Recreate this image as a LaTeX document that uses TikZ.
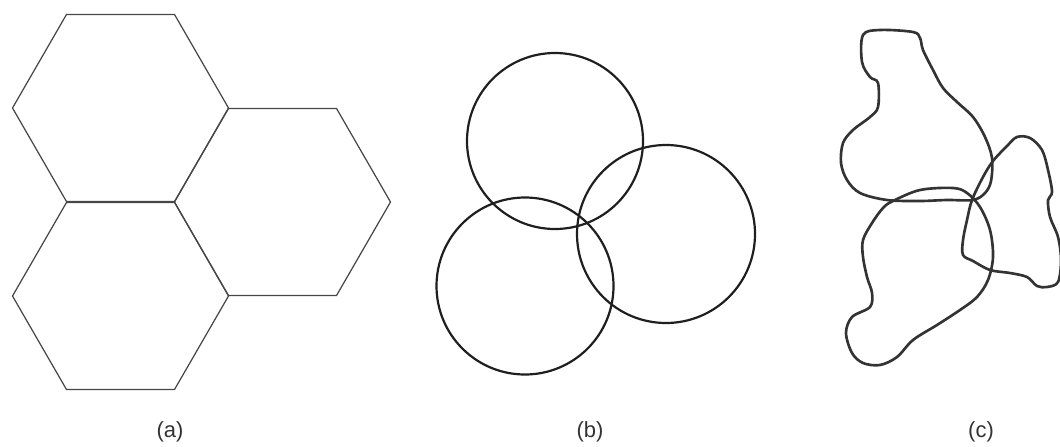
\documentclass[tikz,border=0pt]{standalone}
\usepackage{fontspec}
\setmainfont{Liberation Sans}
\usetikzlibrary{positioning}

\begin{document}
\begin{tikzpicture}[
    x=0.02cm, y=-0.02cm,
    cell/.style={draw=black!72, line width=0.7pt, line join=round},
    ring/.style={draw=black!88, line width=1.25pt},
    blob/.style={draw=black!80, line width=1.5pt, line join=round},
    caption/.style={font=\fontsize{12.5}{15}\selectfont, text=black!80}
]
    \useasboundingbox (0,0) rectangle (1060,446);

    % (a) hexagonal cells
    \foreach \cx/\cy in {120.5/108, 120.5/296, 282.5/202}
        \draw[cell] (\cx,\cy) +(0:108) -- +(60:108) -- +(120:108)
            -- +(180:108) -- +(240:108) -- +(300:108) -- cycle;

    % (b) circular cells
    \draw[ring] (555,141) circle[radius=88];
    \draw[ring] (525,286) circle[radius=88.5];
    \draw[ring] (666,234) circle[radius=89];

    % (c) real coverage
    \draw[blob] plot[smooth cycle, tension=0.55] coordinates {
        (863,35) (880,30) (913,32) (920,38) (923,50) (933,70) (943,88)
        (957,102) (973,117) (985,137) (992,158) (991,181) (985,193)
        (973,200) (947,200) (920,201) (887,200) (860,193) (847,180)
        (841,163) (843,143) (853,130) (870,117) (878,107) (878,83)
        (870,77) (862,62)};
    \draw[blob] plot[smooth cycle, tension=0.55] coordinates {
        (893,201) (920,190) (953,188) (967,193) (980,207) (990,230)
        (993,257) (988,280) (977,297) (960,310) (937,325) (913,340)
        (897,357) (880,365) (863,363) (852,353) (846,333) (852,317)
        (870,307) (872,293) (867,277) (863,257) (863,240) (872,223)
        (883,208)};
    \draw[blob] plot[smooth cycle, tension=0.55] coordinates {
        (972,200) (983,177) (993,161) (1007,146) (1017,137) (1030,138)
        (1042,150) (1048,170) (1052,192) (1048,200) (1050,217) (1058,237)
        (1061,260) (1058,282) (1047,287) (1037,286) (1027,277) (1010,273)
        (990,270) (973,261) (963,255) (963,240) (967,220)};

    % captions
    \node[caption] (capA) at (170,432) {(a)};
    \node[caption] (capB) at (590,432) {(b)};
    \node[caption] (capC) at (981,432) {(c)};
\end{tikzpicture}
\end{document}
